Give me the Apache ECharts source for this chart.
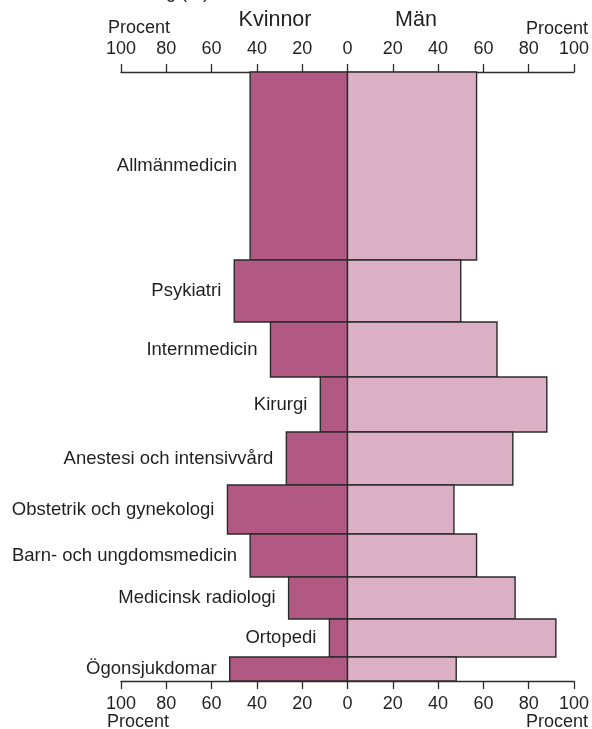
<!DOCTYPE html>
<html>
<head>
<meta charset="utf-8">
<script src="https://cdn.jsdelivr.net/npm/echarts@6/dist/echarts.min.js"></script>
<style>
html,body{margin:0;padding:0;background:#fff;}
#chart{width:592px;height:729px;}
</style>
</head>
<body>
<div id="chart"></div>
<script>
// Specialties (top to bottom)
const categories = ['Allmänmedicin','Psykiatri','Internmedicin','Kirurgi','Anestesi och intensivvård','Obstetrik och gynekologi','Barn- och ungdomsmedicin','Medicinsk radiologi','Ortopedi','Ögonsjukdomar'];
// Share of women (%)
const women = [43, 50, 34, 12, 27, 53, 43, 26, 8, 52];
// Share of men (%)
const men = [57, 50, 66, 88, 73, 47, 57, 74, 92, 48];
// Relative size of each specialty (bar thickness)
const sizes = [188, 62, 55, 55, 53, 49, 43, 42, 38, 24];

const FONT = '"Liberation Sans", Arial, Helvetica, sans-serif';
const TXT = '#231f20';
const EDGE = '#2b2b2b';

let acc = 0;
const data = categories.map((c, i) => {
  const s = acc; acc += sizes[i];
  return [-women[i], men[i], s, acc];
});
const total = acc;

function rectOf(api, xFrom, xTo) {
  const p0 = api.coord([xFrom, api.value(2)]);
  const p1 = api.coord([xTo, api.value(3)]);
  return {x: Math.min(p0[0], p1[0]), y: Math.min(p0[1], p1[1]), width: Math.abs(p1[0]-p0[0]), height: Math.abs(p1[1]-p0[1])};
}

const xAxisCommon = {
  type: 'value', min: -100, max: 100, interval: 20, gridIndex: 0,
  axisLine: {show: true, lineStyle: {color: EDGE, width: 1.3}},
  axisTick: {show: true, length: 8, lineStyle: {color: EDGE, width: 1.3}},
  splitLine: {show: false},
  axisLabel: {formatter: v => String(Math.abs(v)), color: TXT, fontSize: 18, fontFamily: FONT, margin: 14}
};

const chart = echarts.init(document.getElementById('chart'), null, {renderer: 'canvas'});
chart.setOption({
  animation: false,
  grid: {left: 121, right: 16, top: 72, bottom: 48},
  xAxis: [
    Object.assign({}, xAxisCommon, {position: 'top'}),
    Object.assign({}, xAxisCommon, {position: 'bottom'})
  ],
  yAxis: {type: 'value', min: 0, max: total, inverse: true, show: false},
  graphic: [
    {type: 'text', x: 209, y: 2, style: {text: 'Könsfördelning (%)', align: 'right', verticalAlign: 'bottom', font: '18px ' + FONT, fill: TXT}},
    {type: 'text', x: 275, y: 20, style: {text: 'Kvinnor', align: 'center', verticalAlign: 'middle', font: '21.5px ' + FONT, fill: TXT}},
    {type: 'text', x: 416, y: 20, style: {text: 'Män', align: 'center', verticalAlign: 'middle', font: '21.5px ' + FONT, fill: TXT}},
    {type: 'text', x: 108, y: 28, style: {text: 'Procent', align: 'left', verticalAlign: 'middle', font: '18px ' + FONT, fill: TXT}},
    {type: 'text', x: 588, y: 29, style: {text: 'Procent', align: 'right', verticalAlign: 'middle', font: '18px ' + FONT, fill: TXT}},
    {type: 'text', x: 107, y: 722, style: {text: 'Procent', align: 'left', verticalAlign: 'middle', font: '18px ' + FONT, fill: TXT}},
    {type: 'text', x: 588, y: 722, style: {text: 'Procent', align: 'right', verticalAlign: 'middle', font: '18px ' + FONT, fill: TXT}}
  ],
  series: [
    {
      name: 'Kvinnor', type: 'custom', xAxisIndex: 0, data: data,
      renderItem: function (params, api) {
        const r = rectOf(api, api.value(0), 0);
        return {
          type: 'group',
          children: [
            {type: 'rect', shape: r, style: {fill: '#b25983', stroke: EDGE, lineWidth: 1.4}},
            {type: 'text', style: {text: categories[params.dataIndex], x: r.x - 13, y: r.y + r.height / 2, align: 'right', verticalAlign: 'middle', font: '18.5px ' + FONT, fill: TXT}}
          ]
        };
      }
    },
    {
      name: 'Män', type: 'custom', xAxisIndex: 0, data: data,
      renderItem: function (params, api) {
        const r = rectOf(api, 0, api.value(1));
        return {type: 'rect', shape: r, style: {fill: '#dbafc4', stroke: EDGE, lineWidth: 1.4}};
      }
    }
  ]
});
</script>
</body>
</html>
